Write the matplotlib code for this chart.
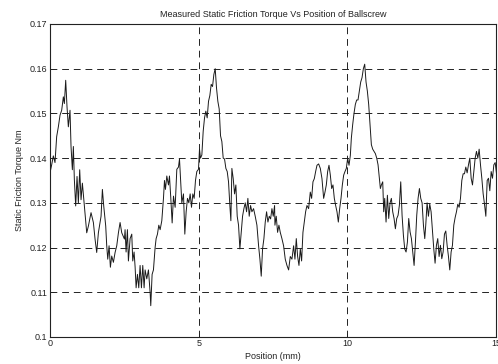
import matplotlib
matplotlib.use("Agg")
import matplotlib.pyplot as plt

plt.rcParams['font.family'] = ['Liberation Sans', 'DejaVu Sans']

title = "Measured Static Friction Torque Vs Position of Ballscrew"
xlabel = "Position (mm)"
ylabel = "Static Friction Torque Nm"
xticks = [0, 5, 10, 15]
yticks = [0.10, 0.11, 0.12, 0.13, 0.14, 0.15, 0.16, 0.17]
yticklabels = ["0.1", "0.11", "0.12", "0.13", "0.14", "0.15", "0.16", "0.17"]

position_a = [0.000, 0.056, 0.112, 0.168, 0.224, 0.281, 0.337, 0.393, 0.449, 0.483,
              0.528, 0.572, 0.617, 0.673, 0.707, 0.752, 0.786, 0.819, 0.864, 0.909,
              0.954, 0.999, 1.044, 1.089, 1.156, 1.235, 1.291, 1.380, 1.459, 1.515,
              1.571, 1.627, 1.717, 1.762, 1.807, 1.874, 1.908, 1.942, 1.987, 2.031,
              2.076, 2.132, 2.189, 2.245, 2.301, 2.357, 2.413, 2.503]
torque_a = [0.1367, 0.1385, 0.1405, 0.1390, 0.1448, 0.1470, 0.1496, 0.1507, 0.1537, 0.1522,
            0.1574, 0.1515, 0.1470, 0.1507, 0.1426, 0.1374, 0.1426, 0.1352, 0.1293, 0.1359,
            0.1300, 0.1374, 0.1307, 0.1344, 0.1293, 0.1233, 0.1248, 0.1278, 0.1256, 0.1219,
            0.1189, 0.1233, 0.1270, 0.1330, 0.1293, 0.1248, 0.1204, 0.1174, 0.1204, 0.1156,
            0.1181, 0.1167, 0.1189, 0.1204, 0.1233, 0.1256, 0.1233, 0.1219]

position_b = [2.525, 2.559, 2.604, 2.637, 2.694, 2.750, 2.783, 2.828, 2.862, 2.896,
              2.941, 2.985, 3.030, 3.075, 3.120, 3.165, 3.199, 3.255, 3.311, 3.367,
              3.389, 3.434, 3.479, 3.535, 3.569, 3.614, 3.659, 3.704, 3.760, 3.816,
              3.850, 3.883, 3.928, 3.984, 4.018, 4.063, 4.108, 4.153, 4.209, 4.265,
              4.321, 4.355, 4.400, 4.433, 4.489, 4.534, 4.579, 4.624, 4.669, 4.714,
              4.759, 4.804, 4.848, 4.893, 4.938, 4.994, 5.028]
torque_b = [0.1240, 0.1190, 0.1240, 0.1170, 0.1220, 0.1230, 0.1170, 0.1190, 0.1157, 0.1110,
            0.1140, 0.1110, 0.1160, 0.1110, 0.1160, 0.1110, 0.1150, 0.1130, 0.1150, 0.1100,
            0.1070, 0.1140, 0.1150, 0.1200, 0.1220, 0.1230, 0.1250, 0.1240, 0.1260, 0.1310,
            0.1350, 0.1330, 0.1360, 0.1340, 0.1360, 0.1310, 0.1255, 0.1315, 0.1290, 0.1375,
            0.1380, 0.1398, 0.1340, 0.1300, 0.1320, 0.1230, 0.1280, 0.1310, 0.1300, 0.1320,
            0.1290, 0.1320, 0.1310, 0.1350, 0.1370, 0.1375, 0.1420]

position_c = [5.062, 5.107, 5.152, 5.197, 5.241, 5.286, 5.331, 5.376, 5.421, 5.466,
              5.511, 5.556, 5.600, 5.645, 5.690, 5.735, 5.780, 5.825, 5.870, 5.915,
              5.960, 6.004, 6.049, 6.083, 6.117, 6.162, 6.207, 6.251, 6.296, 6.341,
              6.386, 6.431, 6.476, 6.521, 6.566, 6.611, 6.655, 6.700, 6.745, 6.790,
              6.846, 6.902, 6.959, 7.015, 7.060, 7.104, 7.149, 7.194, 7.239, 7.284,
              7.329, 7.374, 7.419, 7.464, 7.508, 7.553]
torque_c = [0.1400, 0.1407, 0.1460, 0.1490, 0.1505, 0.1490, 0.1527, 0.1540, 0.1565, 0.1560,
            0.1587, 0.1600, 0.1557, 0.1527, 0.1510, 0.1450, 0.1437, 0.1400, 0.1398, 0.1377,
            0.1370, 0.1347, 0.1294, 0.1260, 0.1377, 0.1354, 0.1320, 0.1340, 0.1270, 0.1250,
            0.1197, 0.1234, 0.1270, 0.1287, 0.1300, 0.1280, 0.1310, 0.1270, 0.1294, 0.1280,
            0.1287, 0.1270, 0.1250, 0.1204, 0.1174, 0.1136, 0.1197, 0.1220, 0.1257, 0.1280,
            0.1257, 0.1270, 0.1264, 0.1287, 0.1270, 0.1294]

position_d = [7.565, 7.609, 7.654, 7.699, 7.744, 7.800, 7.856, 7.912, 7.969, 8.025,
              8.081, 8.137, 8.193, 8.238, 8.283, 8.328, 8.373, 8.418, 8.462, 8.507,
              8.552, 8.597, 8.642, 8.698, 8.754, 8.799, 8.844, 8.889, 8.934, 8.979,
              9.035, 9.091, 9.147, 9.203, 9.248, 9.293, 9.338, 9.383, 9.428, 9.473,
              9.517, 9.562, 9.607, 9.652, 9.697, 9.742, 9.787, 9.832, 9.877, 9.921,
              9.966, 10.011, 10.056, 10.101]
torque_d = [0.1250, 0.1270, 0.1234, 0.1250, 0.1234, 0.1220, 0.1204, 0.1174, 0.1160, 0.1150,
            0.1180, 0.1174, 0.1204, 0.1174, 0.1220, 0.1180, 0.1160, 0.1197, 0.1170, 0.1234,
            0.1257, 0.1280, 0.1294, 0.1287, 0.1324, 0.1310, 0.1347, 0.1354, 0.1370, 0.1384,
            0.1387, 0.1377, 0.1354, 0.1310, 0.1324, 0.1340, 0.1370, 0.1384, 0.1362, 0.1332,
            0.1340, 0.1310, 0.1294, 0.1280, 0.1257, 0.1287, 0.1310, 0.1340, 0.1362, 0.1370,
            0.1377, 0.1400, 0.1384, 0.1406]

position_e = [10.135, 10.180, 10.224, 10.269, 10.314, 10.359, 10.404, 10.449, 10.494, 10.539,
              10.584, 10.629, 10.673, 10.718, 10.763, 10.808, 10.853, 10.898, 10.943, 10.988,
              11.033, 11.077, 11.111, 11.145, 11.190, 11.223, 11.257, 11.302, 11.347, 11.392,
              11.437, 11.481, 11.526, 11.571, 11.616, 11.661, 11.706, 11.751, 11.796, 11.841,
              11.886, 11.930, 11.975, 12.020, 12.065, 12.110, 12.155, 12.200, 12.245, 12.290,
              12.334, 12.379, 12.424, 12.469, 12.514, 12.559, 12.604]
torque_e = [0.1445, 0.1475, 0.1500, 0.1520, 0.1530, 0.1530, 0.1550, 0.1570, 0.1580, 0.1600,
            0.1610, 0.1570, 0.1550, 0.1520, 0.1475, 0.1430, 0.1420, 0.1415, 0.1410, 0.1400,
            0.1385, 0.1355, 0.1332, 0.1340, 0.1347, 0.1280, 0.1310, 0.1257, 0.1317, 0.1265,
            0.1300, 0.1310, 0.1280, 0.1265, 0.1242, 0.1265, 0.1272, 0.1295, 0.1347, 0.1272,
            0.1227, 0.1197, 0.1190, 0.1212, 0.1265, 0.1235, 0.1220, 0.1190, 0.1160, 0.1212,
            0.1272, 0.1310, 0.1332, 0.1310, 0.1300, 0.1250, 0.1220]

position_f = [12.637, 12.682, 12.727, 12.772, 12.817, 12.862, 12.907, 12.951, 12.996, 13.041,
              13.086, 13.131, 13.176, 13.221, 13.266, 13.311, 13.356, 13.401, 13.445, 13.490,
              13.535, 13.580, 13.625, 13.670, 13.715, 13.760, 13.805, 13.850, 13.895, 13.939,
              13.984, 14.029, 14.074, 14.119, 14.164, 14.209, 14.254, 14.299, 14.343, 14.388,
              14.433, 14.478, 14.523, 14.568, 14.613, 14.658, 14.703, 14.747, 14.792, 14.837,
              14.882, 14.927, 14.972, 15.017]
torque_f = [0.1250, 0.1300, 0.1270, 0.1297, 0.1280, 0.1237, 0.1197, 0.1165, 0.1205, 0.1220,
            0.1180, 0.1205, 0.1175, 0.1190, 0.1230, 0.1237, 0.1205, 0.1180, 0.1150, 0.1190,
            0.1205, 0.1250, 0.1267, 0.1280, 0.1297, 0.1290, 0.1310, 0.1350, 0.1365, 0.1365,
            0.1380, 0.1367, 0.1385, 0.1400, 0.1355, 0.1340, 0.1370, 0.1400, 0.1415, 0.1400,
            0.1420, 0.1385, 0.1355, 0.1320, 0.1297, 0.1270, 0.1350, 0.1355, 0.1327, 0.1370,
            0.1355, 0.1385, 0.1390, 0.1365]

position = position_a + position_b + position_c + position_d + position_e + position_f
torque = torque_a + torque_b + torque_c + torque_d + torque_e + torque_f

fig = plt.figure(figsize=(4.98, 3.64), dpi=100)
ax = fig.add_axes([0.1004, 0.0742, 0.8956, 0.860])
ax.plot(position, torque, color='#1a1a1a', linewidth=0.7)

ax.set_xlim(0, 15)
ax.set_ylim(0.10, 0.17)
ax.set_xticks(xticks)
ax.set_xticklabels([str(t) for t in xticks])
ax.set_yticks(yticks)
ax.set_yticklabels(yticklabels)
ax.tick_params(direction='in', labelsize=6.5, length=3, width=0.6, colors='#222222')
ax.tick_params(axis='x', pad=1.5)
ax.tick_params(axis='y', pad=2)
ax.grid(True, color='#222222', linestyle=(0, (7, 5)), linewidth=0.7)
for s in ax.spines.values():
    s.set_linewidth(0.8)
    s.set_color('#222222')

ax.set_title(title, fontsize=6.5, pad=5, color='#222222')
ax.set_xlabel(xlabel, fontsize=6.5, labelpad=3, color='#222222')
ax.set_ylabel(ylabel, fontsize=6.5, color='#222222')
ax.yaxis.set_label_coords(-0.058, 0.5)

fig.savefig("out.png", dpi=100)
